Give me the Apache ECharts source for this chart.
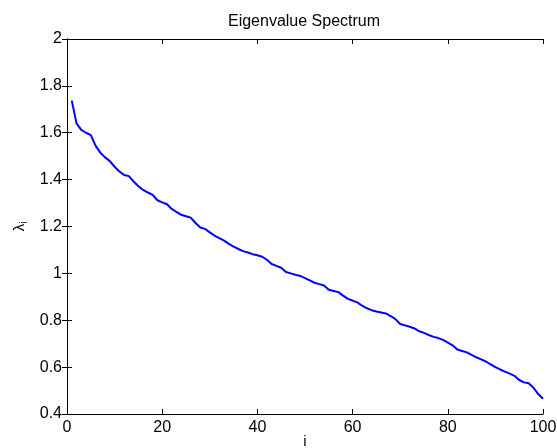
<!DOCTYPE html>
<html>
<head>
<meta charset="utf-8">
<script src="https://cdn.jsdelivr.net/npm/echarts@6/dist/echarts.min.js"></script>
<style>html,body{margin:0;padding:0;background:#fff}#c{width:557px;height:448px}</style>
</head>
<body>
<div id="c"></div>
<script>
var titleText = 'Eigenvalue Spectrum';
var xTicks = [0, 20, 40, 60, 80, 100];
var yTicks = [0.4, 0.6, 0.8, 1, 1.2, 1.4, 1.6, 1.8, 2];
var indices = [];
for (var k = 1; k <= 100; k++) indices.push(k);
var eigenvalues = [
  1.737, 1.640, 1.612, 1.600, 1.590, 1.545, 1.515, 1.495, 1.479, 1.455,
  1.435, 1.420, 1.415, 1.392, 1.372, 1.356, 1.345, 1.335, 1.312, 1.303,
  1.295, 1.275, 1.262, 1.250, 1.244, 1.238, 1.215, 1.196, 1.190, 1.175,
  1.161, 1.150, 1.140, 1.126, 1.114, 1.104, 1.095, 1.089, 1.082, 1.077,
  1.071, 1.058, 1.040, 1.032, 1.024, 1.006, 1.000, 0.994, 0.989, 0.980,
  0.970, 0.960, 0.954, 0.948, 0.930, 0.925, 0.920, 0.905, 0.891, 0.884,
  0.876, 0.862, 0.851, 0.843, 0.837, 0.833, 0.829, 0.818, 0.805, 0.784,
  0.778, 0.772, 0.765, 0.753, 0.746, 0.737, 0.729, 0.724, 0.716, 0.705,
  0.693, 0.675, 0.669, 0.663, 0.652, 0.642, 0.633, 0.624, 0.612, 0.600,
  0.590, 0.581, 0.572, 0.563, 0.545, 0.535, 0.531, 0.512, 0.485, 0.465
];

var data = indices.map(function (x, j) { return [x, eigenvalues[j]]; });
var FONT = 'Liberation Sans, Arial, Helvetica, sans-serif';
var lineStyle = { color: '#000', width: 1 };
var tickStyle = { inside: true, length: 5, lineStyle: { color: '#000', width: 1 } };

function xAxisDef(pos, showLabel) {
  return {
    type: 'value', position: pos, min: xTicks[0], max: xTicks[xTicks.length - 1],
    interval: xTicks[1] - xTicks[0],
    axisLine: { show: true, lineStyle: lineStyle },
    axisTick: tickStyle,
    splitLine: { show: false },
    axisLabel: { show: showLabel, color: '#000', fontSize: 16, fontFamily: FONT, margin: 6 }
  };
}
function yAxisDef(pos, showLabel) {
  return {
    type: 'value', position: pos, min: yTicks[0], max: yTicks[yTicks.length - 1],
    interval: 0.2,
    axisLine: { show: true, lineStyle: lineStyle },
    axisTick: tickStyle,
    splitLine: { show: false },
    axisLabel: { show: showLabel, color: '#000', fontSize: 16, fontFamily: FONT, margin: 5 }
  };
}

var xMain = xAxisDef('bottom', true);
xMain.name = 'i';
xMain.nameLocation = 'middle';
xMain.nameGap = 20;
xMain.nameMoveOverlap = false;
xMain.nameTextStyle = { color: '#000', fontSize: 15, fontFamily: FONT };
var yMain = yAxisDef('left', true);
yMain.name = '{a|λ}{b|i}';
yMain.nameLocation = 'middle';
yMain.nameRotate = 90;
yMain.nameGap = 38;
yMain.nameTextStyle = {
  color: '#000', fontFamily: FONT,
  rich: {
    a: { fontSize: 15, fontFamily: FONT, color: '#000' },
    b: { fontSize: 10, fontFamily: FONT, color: '#000', verticalAlign: 'bottom', padding: [8, 0, 0, 0] }
  }
};

var chart = echarts.init(document.getElementById('c'), null, { renderer: 'canvas' });
chart.setOption({
  animation: false,
  backgroundColor: '#fff',
  title: {
    text: titleText, left: 299, textAlign: 'center', top: 9,
    textStyle: { color: '#000', fontSize: 16, fontWeight: 'normal', fontFamily: FONT }
  },
  grid: { left: 67, right: 14, top: 39, bottom: 34, containLabel: false, outerBoundsMode: 'none' },
  xAxis: [xMain, xAxisDef('top', false)],
  yAxis: [yMain, yAxisDef('right', false)],
  series: [{
    type: 'line', xAxisIndex: 0, yAxisIndex: 0, data: data,
    showSymbol: false, symbol: 'none', smooth: false,
    lineStyle: { color: '#0000ff', width: 2 }
  }]
});
</script>
</body>
</html>
